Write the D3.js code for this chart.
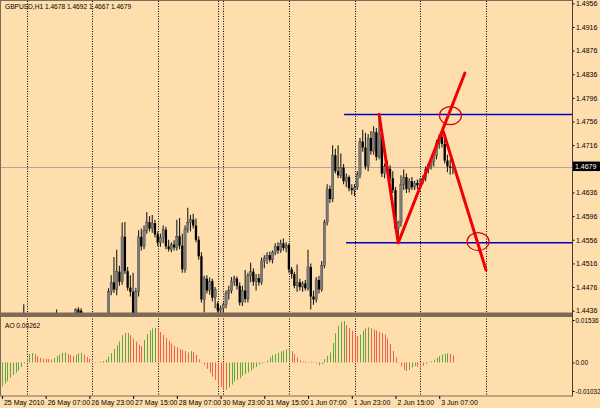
<!DOCTYPE html>
<html><head><meta charset="utf-8">
<script src="https://cdn.jsdelivr.net/npm/d3@7"></script>
<style>
html,body{margin:0;padding:0;background:#FFDEAD;}
svg{display:block;}
text{font-family:"Liberation Sans",Arial,sans-serif;}
</style></head><body>
<svg id="c" width="600" height="408"></svg>
<script>
// ---------------- DATA ----------------
const symbolTitle = "GBPUSD,H1";
const lastBarOHLC = [1.4678, 1.4692, 1.4667, 1.4679];
const currentPrice = 1.4679;

// H1 bars, 25 May 2010 15:00 ... 3 Jun 2010 12:00 (166 bars)
const opens = [
1.4360,1.4378,1.4391,1.4400,1.4406,1.4411,1.4418,1.4410,1.4420,1.4424,
1.4412,1.4420,1.4404,1.4398,1.4402,1.4396,1.4405,1.4412,1.4418,1.4415,
1.4422,1.4426,1.4416,1.4420,1.4412,1.4408,1.4415,1.4420,1.4438,1.4436,
1.4418,1.4410,1.4415,1.4408,1.4402,1.4410,1.4404,1.4412,1.4408,1.4420,
1.4468,1.4484,1.4472,1.4502,1.4485,1.4561,1.4503,1.4475,1.4468,1.4425,
1.4468,1.4561,1.4545,1.4572,1.4586,1.4575,1.4584,1.4565,1.4551,1.4560,
1.4573,1.4545,1.4540,1.4548,1.4543,1.4562,1.4546,1.4506,1.4574,1.4585,
1.4590,1.4580,1.4556,1.4528,1.4455,1.4490,1.4470,1.4486,1.4458,1.4448,
1.4436,1.4440,1.4446,1.4466,1.4470,1.4486,1.4490,1.4478,1.4450,1.4470,
1.4456,1.4495,1.4502,1.4485,1.4491,1.4484,1.4520,1.4524,1.4530,1.4522,
1.4535,1.4545,1.4538,1.4550,1.4542,1.4547,1.4506,1.4498,1.4478,1.4484,
1.4476,1.4482,1.4474,1.4510,1.4460,1.4455,1.4488,1.4472,1.4512,1.4585,
1.4642,1.4625,1.4699,1.4672,1.4665,1.4678,1.4655,1.4662,1.4643,1.4640,
1.4645,1.4666,1.4722,1.4712,1.4680,1.4728,1.4706,1.4738,1.4696,1.4735,
1.4668,1.4680,1.4676,1.4660,1.4640,1.4575,1.4585,1.4650,1.4662,1.4642,
1.4655,1.4645,1.4652,1.4648,1.4656,1.4660,1.4675,1.4682,1.4688,1.4698,
1.4720,1.4730,1.4718,1.4690,1.4680,1.4678];
const highs = [
1.4384,1.4396,1.4405,1.4412,1.4418,1.4424,1.4428,1.4425,1.4447,1.4430,
1.4426,1.4428,1.4416,1.4410,1.4414,1.4408,1.4418,1.4424,1.4428,1.4427,
1.4438,1.4430,1.4428,1.4429,1.4422,1.4420,1.4426,1.4440,1.4442,1.4440,
1.4428,1.4422,1.4426,1.4420,1.4414,1.4418,1.4416,1.4424,1.4428,1.4474,
1.4496,1.4527,1.4539,1.4512,1.4585,1.4586,1.4510,1.4496,1.4500,1.4475,
1.4572,1.4575,1.4580,1.4603,1.4596,1.4598,1.4590,1.4570,1.4566,1.4580,
1.4578,1.4556,1.4552,1.4555,1.4590,1.4593,1.4566,1.4580,1.4610,1.4598,
1.4600,1.4592,1.4562,1.4535,1.4495,1.4496,1.4492,1.4490,1.4476,1.4452,
1.4445,1.4450,1.4470,1.4478,1.4493,1.4495,1.4494,1.4484,1.4478,1.4505,
1.4500,1.4517,1.4508,1.4498,1.4498,1.4526,1.4530,1.4535,1.4536,1.4538,
1.4550,1.4552,1.4556,1.4558,1.4552,1.4550,1.4510,1.4502,1.4514,1.4490,
1.4486,1.4488,1.4539,1.4516,1.4470,1.4493,1.4495,1.4520,1.4590,1.4650,
1.4648,1.4716,1.4710,1.4716,1.4702,1.4684,1.4668,1.4665,1.4650,1.4650,
1.4672,1.4728,1.4742,1.4737,1.4735,1.4740,1.4748,1.4745,1.4762,1.4740,
1.4685,1.4690,1.4682,1.4672,1.4645,1.4588,1.4665,1.4675,1.4668,1.4660,
1.4662,1.4656,1.4658,1.4660,1.4665,1.4680,1.4686,1.4692,1.4702,1.4725,
1.4735,1.4740,1.4735,1.4700,1.4692,1.4692];
const lows = [
1.4352,1.4370,1.4383,1.4390,1.4396,1.4402,1.4405,1.4400,1.4412,1.4405,
1.4404,1.4398,1.4390,1.4385,1.4392,1.4388,1.4398,1.4404,1.4408,1.4406,
1.4414,1.4410,1.4405,1.4408,1.4400,1.4398,1.4406,1.4412,1.4424,1.4412,
1.4405,1.4400,1.4404,1.4396,1.4392,1.4398,1.4395,1.4402,1.4400,1.4412,
1.4462,1.4466,1.4462,1.4478,1.4480,1.4498,1.4470,1.4460,1.4418,1.4415,
1.4460,1.4538,1.4540,1.4566,1.4570,1.4568,1.4560,1.4545,1.4544,1.4550,
1.4540,1.4536,1.4535,1.4538,1.4538,1.4540,1.4500,1.4500,1.4568,1.4570,
1.4575,1.4552,1.4522,1.4450,1.4433,1.4465,1.4463,1.4452,1.4440,1.4428,
1.4425,1.4428,1.4440,1.4455,1.4465,1.4478,1.4472,1.4445,1.4444,1.4450,
1.4450,1.4484,1.4478,1.4470,1.4478,1.4480,1.4508,1.4515,1.4518,1.4516,
1.4530,1.4532,1.4534,1.4538,1.4535,1.4500,1.4490,1.4474,1.4468,1.4470,
1.4468,1.4470,1.4470,1.4438,1.4446,1.4450,1.4465,1.4468,1.4508,1.4580,
1.4618,1.4620,1.4668,1.4660,1.4660,1.4650,1.4645,1.4638,1.4632,1.4630,
1.4640,1.4660,1.4705,1.4675,1.4672,1.4700,1.4700,1.4690,1.4692,1.4662,
1.4660,1.4670,1.4655,1.4635,1.4570,1.4562,1.4578,1.4640,1.4635,1.4636,
1.4640,1.4640,1.4642,1.4643,1.4650,1.4655,1.4668,1.4675,1.4680,1.4692,
1.4710,1.4712,1.4685,1.4670,1.4666,1.4667];
const closes = [
1.4378,1.4391,1.4400,1.4406,1.4411,1.4418,1.4410,1.4420,1.4424,1.4412,
1.4420,1.4404,1.4398,1.4402,1.4396,1.4405,1.4412,1.4418,1.4415,1.4422,
1.4426,1.4416,1.4420,1.4412,1.4408,1.4415,1.4420,1.4438,1.4428,1.4418,
1.4410,1.4415,1.4408,1.4402,1.4410,1.4404,1.4412,1.4408,1.4420,1.4468,
1.4484,1.4472,1.4502,1.4485,1.4561,1.4503,1.4475,1.4468,1.4425,1.4468,
1.4561,1.4545,1.4572,1.4586,1.4575,1.4584,1.4565,1.4551,1.4560,1.4573,
1.4545,1.4540,1.4548,1.4543,1.4562,1.4546,1.4506,1.4574,1.4585,1.4590,
1.4580,1.4556,1.4528,1.4455,1.4490,1.4470,1.4486,1.4458,1.4472,1.4436,
1.4440,1.4446,1.4466,1.4470,1.4486,1.4490,1.4478,1.4450,1.4470,1.4456,
1.4495,1.4502,1.4485,1.4491,1.4484,1.4520,1.4524,1.4530,1.4522,1.4535,
1.4545,1.4538,1.4550,1.4542,1.4547,1.4506,1.4498,1.4478,1.4484,1.4476,
1.4482,1.4474,1.4510,1.4460,1.4455,1.4488,1.4472,1.4512,1.4585,1.4642,
1.4625,1.4699,1.4672,1.4665,1.4678,1.4655,1.4662,1.4643,1.4640,1.4645,
1.4666,1.4722,1.4712,1.4680,1.4728,1.4706,1.4738,1.4696,1.4735,1.4668,
1.4680,1.4676,1.4660,1.4640,1.4575,1.4585,1.4650,1.4662,1.4642,1.4655,
1.4645,1.4652,1.4648,1.4656,1.4660,1.4675,1.4682,1.4688,1.4698,1.4720,
1.4730,1.4718,1.4690,1.4680,1.4678,1.4679];

// Awesome Oscillator values per bar
const aoValues = [
-0.0086,-0.0076,-0.0068,-0.0055,-0.0046,-0.0037,-0.0029,-0.0016,-0.0004,0.0013,
0.0031,0.0034,0.0031,0.0023,0.0017,0.0014,0.0013,0.0012,0.0011,0.0016,
0.0023,0.0028,0.0035,0.0036,0.0030,0.0027,0.0024,0.0027,0.0033,0.0035,
0.0029,0.0021,0.0013,0.0007,0.0002,0.0001,0.0003,0.0005,0.0010,0.0021,
0.0034,0.0049,0.0062,0.0076,0.0098,0.0106,0.0107,0.0099,0.0087,0.0075,
0.0064,0.0059,0.0081,0.0103,0.0116,0.0123,0.0125,0.0121,0.0110,0.0100,
0.0089,0.0078,0.0069,0.0060,0.0055,0.0049,0.0045,0.0041,0.0036,0.0041,
0.0038,0.0028,0.0011,0.0001,-0.0008,-0.0023,-0.0037,-0.0052,-0.0063,-0.0080,
-0.0089,-0.0097,-0.0098,-0.0090,-0.0080,-0.0069,-0.0062,-0.0057,-0.0048,-0.0042,
-0.0036,-0.0029,-0.0022,-0.0016,-0.0008,-0.0004,-0.0001,0.0007,0.0018,0.0027,
0.0030,0.0035,0.0040,0.0043,0.0047,0.0048,0.0041,0.0030,0.0018,0.0008,
0.0004,0.0003,0.0002,0.0003,-0.0002,-0.0004,-0.0010,-0.0006,0.0012,0.0024,
0.0036,0.0070,0.0106,0.0133,0.0147,0.0150,0.0135,0.0124,0.0115,0.0105,
0.0096,0.0101,0.0115,0.0123,0.0127,0.0124,0.0119,0.0116,0.0111,0.0106,
0.0101,0.0087,0.0066,0.0042,0.0018,-0.0002,-0.0014,-0.0027,-0.0031,-0.0027,
-0.0018,-0.0013,-0.0016,-0.0019,-0.0012,-0.0006,-0.0001,0.0004,0.0010,0.0017,
0.0023,0.0028,0.0031,0.0032,0.0031,0.00262];
const aoLabel = "AO 0.00262";

// axes
const priceDomain = [1.4436, 1.4956];
const priceTicks = [1.4956,1.4916,1.4876,1.4836,1.4796,1.4756,1.4716,1.4636,1.4596,1.4556,1.4516,1.4476,1.4436];
const aoDomain = [-0.01032, 0.01536];
const aoTicks = [0.01536, 0, -0.01032];
const timeTickBars = [0,16,32,48,64,80,96,112,128,144,160];
const timeTickLabels = ["25 May 2010","26 May 07:00","26 May 23:00","27 May 15:00","28 May 07:00",
  "30 May 23:00","31 May 15:00","1 Jun 07:00","1 Jun 23:00","2 Jun 15:00","3 Jun 07:00"];
const dayStartBars = [9,33,57,79,81,105,129,153,177];
const barDomain = [0, 177];

// drawn objects (bar index, price)
const levelLines = [ {from:125.2, price:1.4768}, {from:125.9, price:1.4551} ];
const trendLines = [
  [[138.0,1.4768],[145.0,1.4551]],
  [[145.0,1.4551],[169.4,1.4838]],
  [[161.5,1.4739],[177.1,1.4505]]
];
const ellipses = [ {bar:164.1, price:1.4766}, {bar:174.2, price:1.4553} ];

// ---------------- DRAW ----------------
const svg = d3.select("#c");
const W = 600, H = 408;
const plotRight = 572.5, mainBottom = 313, aoTop = 316.5, aoBottom = 396;
const bg = "#FFDEAD", frame = "#7d6b55";
const FONT = "Liberation Sans, Arial, sans-serif";

const x = d3.scaleLinear().domain(barDomain).range([1.9, 485.7]);
const y = d3.scaleLinear().domain(priceDomain).range([310.7, 3.3]);
const ya = d3.scaleLinear().domain(aoDomain).range([391, 320]);

svg.append("rect").attr("width", W).attr("height", H).attr("fill", bg);

const defs = svg.append("defs");
defs.append("clipPath").attr("id","clipMain").append("rect")
  .attr("x",0).attr("y",0).attr("width",plotRight).attr("height",mainBottom);
defs.append("clipPath").attr("id","clipAO").append("rect")
  .attr("x",0).attr("y",aoTop).attr("width",plotRight).attr("height",aoBottom-aoTop);

// grid
svg.append("g").selectAll("line").data(dayStartBars).join("line")
  .attr("x1", d => Math.round(x(d)) + 0.5).attr("x2", d => Math.round(x(d)) + 0.5)
  .attr("y1", 1).attr("y2", aoBottom)
  .attr("stroke", "#000").attr("stroke-width", 1).attr("stroke-dasharray", "1,1.5");

const main = svg.append("g").attr("clip-path","url(#clipMain)");

// current price line
main.append("line").attr("x1",0).attr("x2",plotRight)
  .attr("y1", Math.round(y(currentPrice))+0.5).attr("y2", Math.round(y(currentPrice))+0.5)
  .attr("stroke","#b3a896").attr("stroke-width",1);

// candles
const idx = d3.range(closes.length);
main.append("g").selectAll("line").data(idx).join("line")
  .attr("x1", i => x(i)).attr("x2", i => x(i))
  .attr("y1", i => y(highs[i])).attr("y2", i => y(lows[i]))
  .attr("stroke", "#1e1e1e").attr("stroke-width", 1.1);
main.append("g").selectAll("rect").data(idx).join("rect")
  .attr("x", i => x(i) - 1.15).attr("width", 2.3)
  .attr("y", i => y(Math.max(opens[i], closes[i])))
  .attr("height", i => Math.max(0.8, Math.abs(y(opens[i]) - y(closes[i]))))
  .attr("fill", i => closes[i] >= opens[i] ? "#7c7c7c" : "#000")
  .attr("stroke", i => closes[i] >= opens[i] ? "#3a3a3a" : "none")
  .attr("stroke-width", 0.4);

// level lines
main.append("g").selectAll("line").data(levelLines).join("line")
  .attr("x1", d => x(d.from)).attr("x2", plotRight)
  .attr("y1", d => y(d.price)).attr("y2", d => y(d.price))
  .attr("stroke", "#0000c8").attr("stroke-width", 1.5);

// trend lines
main.append("g").selectAll("line").data(trendLines).join("line")
  .attr("x1", d => x(d[0][0])).attr("y1", d => y(d[0][1]))
  .attr("x2", d => x(d[1][0])).attr("y2", d => y(d[1][1]))
  .attr("stroke", "#f00000").attr("stroke-width", 3).attr("stroke-linecap","round");

// ellipses
main.append("g").selectAll("ellipse").data(ellipses).join("ellipse")
  .attr("cx", d => x(d.bar)).attr("cy", d => y(d.price))
  .attr("rx", 11).attr("ry", 9)
  .attr("fill", "none").attr("stroke", "#e00000").attr("stroke-width", 1.2);

// AO histogram
const aoG = svg.append("g").attr("clip-path","url(#clipAO)");
aoG.selectAll("line").data(aoValues.map((v,i)=>({v,i}))).join("line")
  .attr("x1", d => Math.round(x(d.i)) + 0.5).attr("x2", d => Math.round(x(d.i)) + 0.5)
  .attr("y1", ya(0)).attr("y2", d => ya(d.v))
  .attr("stroke", d => (d.i === 0 || d.v > aoValues[d.i-1]) ? "#5fa83c" : "#f0604c")
  .attr("stroke-width", 1);

// frames
svg.append("rect").attr("x",0.5).attr("y",0.5).attr("width",plotRight-0.5).attr("height",mainBottom-0.5)
  .attr("fill","none").attr("stroke",frame).attr("stroke-width",1);
svg.append("rect").attr("x",0).attr("y",mainBottom).attr("width",plotRight+0.5).attr("height",aoTop-mainBottom)
  .attr("fill",frame);
svg.append("rect").attr("x",0.5).attr("y",aoTop).attr("width",plotRight-0.5).attr("height",aoBottom-aoTop)
  .attr("fill","none").attr("stroke",frame).attr("stroke-width",1);

// price axis
const pAxis = svg.append("g").attr("transform",`translate(${plotRight},0)`)
  .call(d3.axisRight(y).tickValues(priceTicks).tickSize(2).tickPadding(1.5).tickFormat(d3.format(".4f")));
pAxis.select(".domain").remove();
pAxis.selectAll("line").attr("stroke","#000");
pAxis.selectAll("text").attr("font-size","7px").attr("font-family",FONT).attr("fill","#000");

// AO axis
const aAxis = svg.append("g").attr("transform",`translate(${plotRight},0)`)
  .call(d3.axisRight(ya).tickValues(aoTicks).tickSize(2).tickPadding(1)
    .tickFormat(d => d === 0 ? "0.00" : d.toFixed(5)));
aAxis.select(".domain").remove();
aAxis.selectAll("line").attr("stroke","#000");
aAxis.selectAll("text").attr("font-size","6.4px").attr("font-family",FONT).attr("fill","#000");

// current price marker
const cp = svg.append("g").attr("transform",`translate(${plotRight},${y(currentPrice)})`);
cp.append("rect").attr("x",0.5).attr("y",-5.5).attr("width",27).attr("height",9.5).attr("fill","#000");
cp.append("text").attr("x",2.5).attr("y",2).attr("font-size","7px").attr("font-family",FONT)
  .attr("fill","#fff").text(d3.format(".4f")(currentPrice));

// time axis
const tAxis = svg.append("g").attr("transform",`translate(0,${aoBottom})`)
  .call(d3.axisBottom(x).tickValues(timeTickBars).tickSize(3)
    .tickFormat((d,k) => timeTickLabels[k]));
tAxis.select(".domain").remove();
tAxis.selectAll("line").attr("stroke","#000");
tAxis.selectAll("text").attr("font-size","7px").attr("font-family",FONT)
  .attr("fill","#000").attr("text-anchor","start").attr("x",1.5).attr("y",8.5).attr("dy",0);

// right border
svg.append("line").attr("x1",plotRight).attr("x2",plotRight).attr("y1",0).attr("y2",aoBottom)
  .attr("stroke","#4a3c2c").attr("stroke-width",1);

// header texts
svg.append("text").attr("x",5).attr("y",9).attr("font-size","6.6px").attr("font-family",FONT).attr("fill","#000")
  .text(symbolTitle + "  " + lastBarOHLC.map(d3.format(".4f")).join(" "));
svg.append("text").attr("x",5).attr("y",328).attr("font-size","6.6px").attr("font-family",FONT).attr("fill","#000")
  .text(aoLabel);
</script>
</body></html>
